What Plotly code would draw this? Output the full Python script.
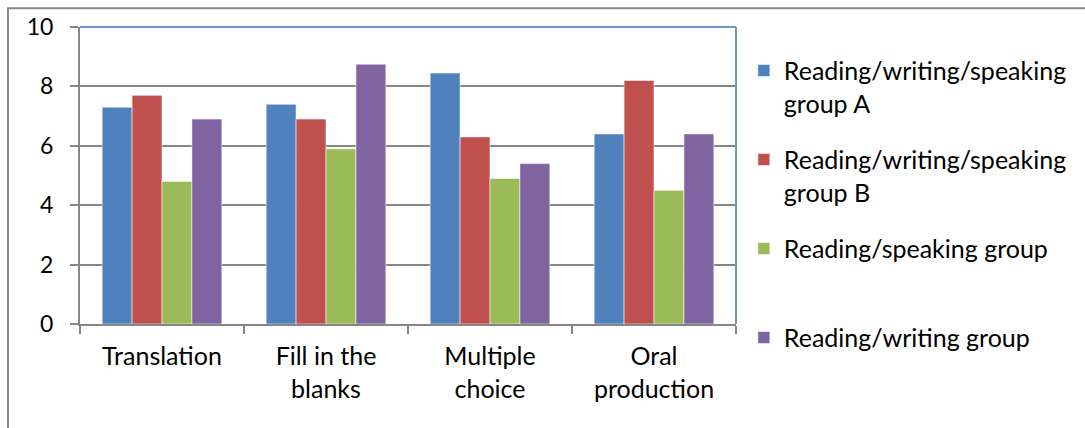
import plotly.graph_objects as go

categories = ["Translation", "Fill in the<br>blanks", "Multiple<br>choice", "Oral<br>production"]
series_names = [
    "Reading/writing/speaking<br>group A",
    "Reading/writing/speaking<br>group B",
    "Reading/speaking group<br> ",
    "Reading/writing group",
]
group_a = [7.3, 7.4, 8.45, 6.4]
group_b = [7.7, 6.9, 6.3, 8.2]
speaking = [4.8, 5.9, 4.9, 4.5]
writing = [6.9, 8.75, 5.4, 6.4]
colors = ["#4F81BD", "#C0504D", "#9BBB59", "#8064A2"]
y_ticks = [0, 2, 4, 6, 8, 10]

FONT = "Lato"
fig = go.Figure()
for i, (name, vals) in enumerate(zip(series_names, [group_a, group_b, speaking, writing])):
    fig.add_trace(go.Bar(
        x=categories, y=vals, name=name, legendgroup=f"g{i}",
        marker=dict(color=colors[i], line=dict(color="rgba(255,255,255,0.55)", width=1)),
    ))

fig.update_layout(
    width=1085, height=428,
    margin=dict(l=80, r=349, t=27, b=104),
    paper_bgcolor="white", plot_bgcolor="white",
    barmode="group", bargap=0.27, bargroupgap=0,
    font=dict(family=FONT, size=20, color="#000000"),
    legend=dict(
        x=1.012, xanchor="left", y=0.93, yanchor="top",
        font=dict(family=FONT, size=25, color="#000000"),
        tracegroupgap=21, valign="top", bgcolor="rgba(0,0,0,0)",
        traceorder="grouped", maxheight=600,
    ),
    xaxis=dict(
        showgrid=False, showline=True, linecolor="#868686", linewidth=2,
        ticks="outside", tickson="boundaries", ticklen=8, tickwidth=1.5, tickcolor="#868686",
        tickfont=dict(family=FONT, size=25, color="#000000"),
        ticklabelstandoff=9,
    ),
    yaxis=dict(
        range=[0, 10], tickvals=y_ticks, showgrid=True, gridcolor="#868686", gridwidth=1.5,
        showline=True, linecolor="#868686", linewidth=2,
        ticks="outside", ticklen=8, tickwidth=1.5, tickcolor="#868686",
        tickfont=dict(family=FONT, size=23, color="#000000"),
        ticklabelstandoff=12, zeroline=False,
    ),
    shapes=[
        dict(type="line", xref="paper", yref="paper", x0=0, x1=1, y0=1, y1=1,
             line=dict(color="#6E96CB", width=2)),
        dict(type="line", xref="paper", yref="paper", x0=1, x1=1, y0=0, y1=1,
             line=dict(color="#6E96CB", width=2)),
        dict(type="rect", xref="paper", yref="paper", x0=-0.1098, x1=1.54, y0=-0.38, y1=1.063,
             line=dict(color="#888888", width=2), fillcolor="rgba(0,0,0,0)", layer="below"),
    ],
)

fig.write_html("out.html")
